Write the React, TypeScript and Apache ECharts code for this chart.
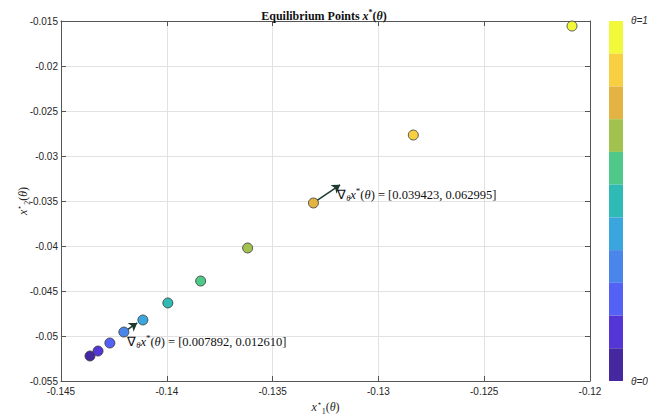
import React, { useEffect, useRef } from "react";
import * as echarts from "echarts";

// θ values of the equilibrium points
const theta = [0, 0.1, 0.2, 0.3, 0.4, 0.5, 0.6, 0.7, 0.8, 0.9, 1];
// x1*(θ)
const x1 = [-0.14363, -0.14325, -0.14269, -0.14203, -0.14113, -0.13995, -0.1384, -0.13618, -0.13307, -0.12835, -0.12085];
// x2*(θ)
const x2 = [-0.05222, -0.05167, -0.05078, -0.04956, -0.04822, -0.04633, -0.04389, -0.04022, -0.03522, -0.02767, -0.01556];
// colour of each θ band (parula-like)
const bandColors = ["#4527a0", "#5436d6", "#5461f5", "#4a86ea", "#3aa6dd", "#30bab5", "#4ec98a", "#a1c24e", "#e3b443", "#f7cf40", "#f2f83a"];
// gradient annotations
const gradPointIndex = [3, 8];
const gradients = [
  [0.007892, 0.01261],
  [0.039423, 0.062995],
];
const arrowScale = [0.08, 0.032];

const X_MIN = -0.145, X_MAX = -0.12, Y_MIN = -0.055, Y_MAX = -0.015, STEP = 0.005;

const fmt = (v: number) => String(+v.toFixed(3));

export default function App() {
  const ref = useRef<HTMLDivElement>(null);
  useEffect(() => {
    if (!ref.current) return;
    const chart = echarts.init(ref.current, undefined, { renderer: "svg" });
    const axisColor = "#262626";
    const sans = "Liberation Sans";
    const serif = "Liberation Serif";
    const ink = "#111";
    const gridLine = { show: true, lineStyle: { color: "#e2e2e2", width: 1 } };
    const mathRich = {
      n: { fontFamily: serif, fontSize: 12.5, color: ink, lineHeight: 18, verticalAlign: "middle" },
      i: { fontFamily: serif, fontSize: 12.5, fontStyle: "italic", color: ink, lineHeight: 18, verticalAlign: "middle" },
      s: { fontFamily: serif, fontSize: 8.5, fontStyle: "italic", color: ink, lineHeight: 18, verticalAlign: "bottom", padding: [0, 0, 1, 0] },
      sup: { fontFamily: serif, fontSize: 9, color: ink, lineHeight: 18, verticalAlign: "top", padding: [1, 0, 0, 0] },
    };
    const axisNameRich = {
      i: { fontFamily: serif, fontSize: 12, fontStyle: "italic", color: axisColor, lineHeight: 16, verticalAlign: "middle" },
      n: { fontFamily: serif, fontSize: 12, color: axisColor, lineHeight: 16, verticalAlign: "middle" },
      sup: { fontFamily: serif, fontSize: 8, color: axisColor, lineHeight: 16, verticalAlign: "top" },
      sub: { fontFamily: serif, fontSize: 8, color: axisColor, lineHeight: 16, verticalAlign: "bottom" },
    };

    const arrows = gradPointIndex.map((p, k) => ({
      coords: [
        [x1[p], x2[p]],
        [x1[p] + gradients[k][0] * arrowScale[k], x2[p] + gradients[k][1] * arrowScale[k]],
      ],
    }));
    const labelOffsets = [
      [-10, 19],
      [-3, 10],
    ];
    const annotations = gradPointIndex.map((p, k) => ({
      value: arrows[k].coords[1],
      label: {
        show: true,
        position: "right",
        distance: 0,
        color: ink,
        opacity: 1,
        offset: labelOffsets[k],
        formatter: `{n|∇}{s|θ}{i|x}{sup|*}{n|(}{i|θ}{n|) = [${gradients[k][0].toFixed(6)}, ${gradients[k][1].toFixed(6)}]}`,
        rich: mathRich,
      },
    }));

    const baseX = {
      type: "value",
      min: X_MIN,
      max: X_MAX,
      interval: STEP,
      axisLine: { show: true, onZero: false, lineStyle: { color: "#555", width: 1 } },
      axisTick: { show: true, inside: true, length: 5, lineStyle: { color: "#555" } },
    };
    const baseY = {
      type: "value",
      min: Y_MIN,
      max: Y_MAX,
      interval: STEP,
      axisLine: { show: true, onZero: false, lineStyle: { color: "#555", width: 1 } },
      axisTick: { show: true, inside: true, length: 5, lineStyle: { color: "#555" } },
    };

    chart.setOption({
      animation: false,
      backgroundColor: "#ffffff",
      title: {
        left: "center",
        top: 3,
        text: "{b|Equilibrium Points }{i|x}{sup|*}{n|(}{i|θ}{n|)}",
        textStyle: {
          rich: {
            b: { fontFamily: serif, fontWeight: "bold", fontSize: 12, color: "#111", lineHeight: 16, verticalAlign: "middle" },
            i: { fontFamily: serif, fontStyle: "italic", fontSize: 12, color: "#111", lineHeight: 16, verticalAlign: "middle" },
            n: { fontFamily: serif, fontSize: 12, color: "#111", lineHeight: 16, verticalAlign: "middle" },
            sup: { fontFamily: serif, fontSize: 8, color: "#111", lineHeight: 16, verticalAlign: "top" },
          },
        },
      },
      grid: { left: 61, top: 21, width: 529, height: 360, containLabel: false, outerBoundsMode: "none" },
      xAxis: [
        {
          ...baseX,
          position: "bottom",
          splitLine: gridLine,
          axisLabel: { formatter: fmt, color: axisColor, fontFamily: sans, fontSize: 10, margin: 5 },
          name: "{i|x}{sup|⋆}{sub|1}{n|(}{i|θ}{n|)}",
          nameLocation: "middle",
          nameGap: 18,
          nameMoveOverlap: false,
          nameTextStyle: { rich: axisNameRich },
        },
        {
          ...baseX,
          position: "top",
          splitLine: { show: false },
          axisLabel: { show: false },
        },
      ],
      yAxis: [
        {
          ...baseY,
          position: "left",
          splitLine: gridLine,
          axisLabel: { formatter: fmt, color: axisColor, fontFamily: sans, fontSize: 10, margin: 3 },
          name: "{i|x}{sup|⋆}{sub|2}{n|(}{i|θ}{n|)}",
          nameLocation: "middle",
          nameGap: 30,
          nameMoveOverlap: false,
          nameTextStyle: { rich: axisNameRich },
        },
        {
          ...baseY,
          position: "right",
          splitLine: { show: false },
          axisLabel: { show: false },
        },
      ],
      visualMap: {
        type: "piecewise",
        seriesIndex: 0,
        dimension: 2,
        orient: "vertical",
        left: 609,
        top: 21,
        padding: 0,
        itemWidth: 14,
        itemHeight: 360 / theta.length,
        itemGap: 0,
        itemSymbol: "rect",
        showLabel: false,
        selectedMode: false,
        hoverLink: false,
        pieces: theta.map((t, i) => ({ value: t, color: bandColors[i] })),
      },
      graphic: [
        {
          type: "text",
          left: 631,
          top: 15,
          style: { text: "θ=1", font: `italic 10px ${sans}`, fill: axisColor },
        },
        {
          type: "text",
          left: 631,
          top: 376,
          style: { text: "θ=0", font: `italic 10px ${sans}`, fill: axisColor },
        },
      ],
      series: [
        {
          type: "scatter",
          symbolSize: 10,
          z: 4,
          itemStyle: { borderColor: "#333", borderWidth: 0.8, opacity: 1 },
          data: theta.map((t, i) => [x1[i], x2[i], t]),
        },
        {
          type: "lines",
          coordinateSystem: "cartesian2d",
          symbol: ["none", "arrow"],
          symbolSize: 8,
          z: 3,
          silent: true,
          lineStyle: { color: "#1c3b2e", width: 1.5, opacity: 1, curveness: 0 },
          data: arrows,
        },
        {
          type: "scatter",
          symbolSize: 0,
          z: 5,
          silent: true,
          itemStyle: { color: "transparent" },
          data: annotations,
        },
      ],
    });
    return () => chart.dispose();
  }, []);
  return (
    <div
      ref={ref}
      style={{ position: "fixed", left: 0, top: 0, width: 648, height: 417, background: "#fff" }}
    />
  );
}
